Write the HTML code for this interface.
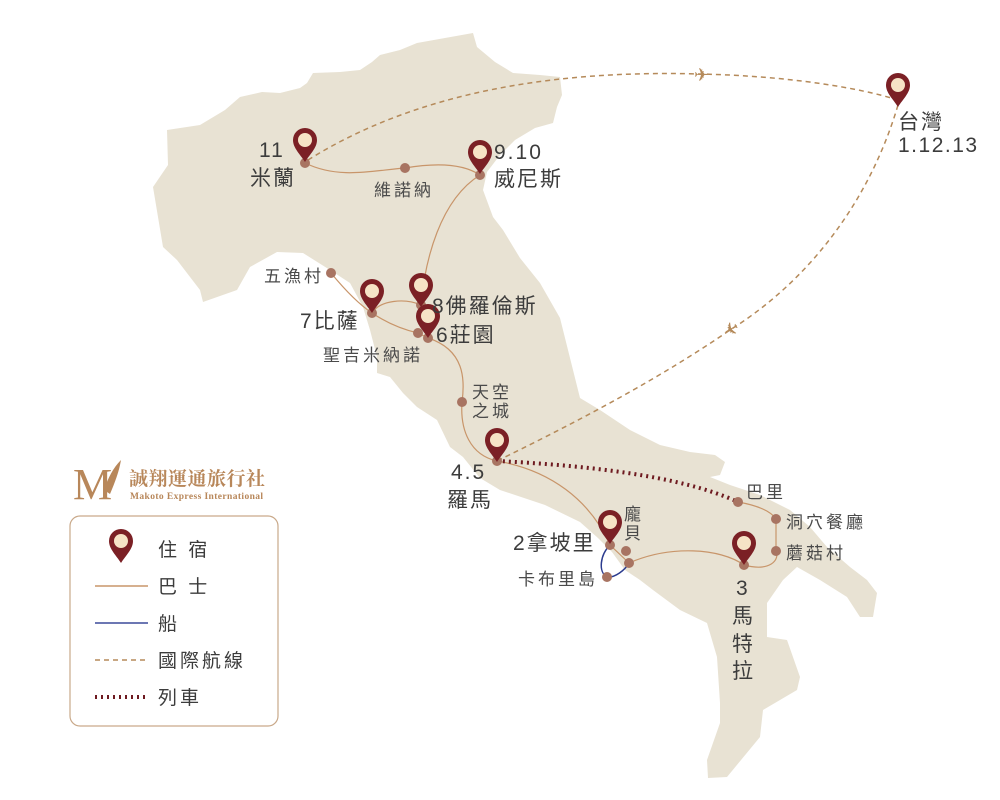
<!DOCTYPE html>
<html><head><meta charset="utf-8"><style>
html,body{margin:0;padding:0;background:#fff}
svg{display:block}
text{font-family:"Liberation Sans","Noto Sans CJK TC",sans-serif;fill:#3c3c3c}
.m{font-size:21px;letter-spacing:2px}
.s{font-size:17px;letter-spacing:3px;fill:#4a4a4a}
</style></head><body>
<svg width="1000" height="800" viewBox="0 0 1000 800" xmlns="http://www.w3.org/2000/svg">
<defs>
<g id="pin"><path d="M0,14 C-5,6 -12,0 -12,-8 A12,12 0 0 1 12,-8 C12,0 5,6 0,14Z" fill="#7b2025"/><circle cx="0" cy="-8" r="7" fill="#f6e3c6"/></g>
</defs>
<path fill="#e8e2d3" d="M153,187 L168,165 L167,130 L200,125 L225,110 L240,97 L262,92 L280,93 L300,88 L307,83 L313,73 L340,72 L360,70 L372,62 L380,55 L400,50 L417,43 L445,38 L473,33 L477,47 L495,62 L513,73 L540,75 L560,77 L562,95 L557,107 L553,123 L535,128 L515,140 L500,155 L487,172 L483,190 L493,217 L503,230 L520,258 L540,283 L560,318 L568,350 L580,398 L600,410 L630,430 L660,445 L690,452 L715,455 L725,462 L720,475 L710,477 L730,485 L760,495 L790,510 L810,527 L827,547 L850,567 L867,580 L877,593 L873,617 L860,617 L847,597 L820,580 L797,567 L783,580 L767,603 L767,637 L787,640 L800,677 L797,690 L763,710 L760,737 L727,777 L708,778 L707,760 L720,723 L720,703 L717,657 L707,623 L680,610 L653,590 L640,580 L625,570 L612,552 L598,538 L580,522 L545,505 L500,490 L480,478 L463,457 L450,447 L437,420 L417,407 L403,393 L390,377 L377,373 L377,357 L370,330 L363,307 L350,283 L330,270 L303,253 L277,252 L250,267 L237,290 L203,302 L200,290 L177,260 L163,247 Z"/>
<g fill="none" stroke="#c8956a" stroke-width="1.2">
<path d="M305,163 C340,180 375,170 405,168 C440,162 465,165 480,175"/>
<path d="M480,175 C440,200 425,260 421,305"/>
<path d="M331,273 C345,290 360,305 372,313 C390,325 405,330 418,333 L428,338"/>
<path d="M372,313 C380,300 405,298 421,305"/>
<path d="M428,338 C465,350 465,380 462,402 C460,430 470,455 497,461 C550,470 590,500 610,545 L629,563"/>
<path d="M629,563 C670,545 720,548 744,565 C770,572 780,560 776,551 L776,519 C770,510 755,505 738,502"/>
</g>
<path d="M610,545 C600,555 598,572 607,577 C615,578 625,570 629,563" fill="none" stroke="#2c3c8f" stroke-width="1.5"/>
<path d="M497,461 C580,465 680,475 738,502" fill="none" stroke="#6e1a20" stroke-width="4" stroke-dasharray="2,4"/>
<g fill="none" stroke="#b58a5a" stroke-width="1.5" stroke-dasharray="5,4">
<path d="M308,160 C420,90 560,70 700,74 C790,76 860,88 898,100"/>
<path d="M898,105 C870,200 810,280 730,330 C650,385 560,430 497,461"/>
</g>
<text x="694" y="81" font-size="18" style="fill:#b58a5a">✈</text>
<text x="721" y="337" font-size="18" style="fill:#b58a5a" transform="rotate(150 730 330)">✈</text>
<g fill="#a87462">
<circle cx="305" cy="163" r="5"/><circle cx="405" cy="168" r="5"/><circle cx="480" cy="175" r="5"/>
<circle cx="331" cy="273" r="5"/><circle cx="372" cy="313" r="5"/><circle cx="421" cy="305" r="5"/>
<circle cx="418" cy="333" r="5"/><circle cx="428" cy="338" r="5"/><circle cx="462" cy="402" r="5"/>
<circle cx="497" cy="461" r="5"/><circle cx="610" cy="545" r="5"/><circle cx="626" cy="551" r="5"/>
<circle cx="629" cy="563" r="5"/><circle cx="607" cy="577" r="5"/><circle cx="744" cy="565" r="5"/>
<circle cx="776" cy="551" r="5"/><circle cx="776" cy="519" r="5"/><circle cx="738" cy="502" r="5"/>
</g>
<use href="#pin" x="305" y="148"/><use href="#pin" x="480" y="160"/><use href="#pin" x="372" y="299"/>
<use href="#pin" x="421" y="293"/><use href="#pin" x="428" y="324"/><use href="#pin" x="497" y="448"/>
<use href="#pin" x="610" y="530"/><use href="#pin" x="744" y="551"/><use href="#pin" x="898" y="93"/>
<text x="259" y="157" class="m">11</text><text x="250" y="185" class="m">米蘭</text>
<text x="494" y="159" class="m">9.10</text><text x="494" y="186" class="m">威尼斯</text>
<text x="300" y="328" class="m">7比薩</text>
<text x="432" y="313" class="m">8佛羅倫斯</text>
<text x="436" y="342" class="m">6莊園</text>
<text x="451" y="479" class="m">4.5</text><text x="447" y="507" class="m">羅馬</text>
<text x="513" y="550" class="m">2拿坡里</text>
<text x="736" y="595" class="m">3</text><text x="732" y="623" class="m">馬</text><text x="732" y="651" class="m">特</text><text x="732" y="678" class="m">拉</text>
<text x="898" y="129" class="m">台灣</text><text x="898" y="152" class="m" style="letter-spacing:1.5px">1.12.13</text>
<text x="374" y="196" class="s">維諾納</text>
<text x="264" y="282" class="s">五漁村</text>
<text x="323" y="361" class="s">聖吉米納諾</text>
<text x="472" y="398" class="s">天空</text><text x="472" y="417" class="s">之城</text>
<text x="624" y="520" class="s">龐</text><text x="624" y="539" class="s">貝</text>
<text x="518" y="585" class="s">卡布里島</text>
<text x="746" y="498" class="s">巴里</text>
<text x="786" y="528" class="s">洞穴餐廳</text>
<text x="786" y="559" class="s">蘑菇村</text>
<text x="73" y="499" font-size="44" style="fill:#b8875a;font-family:'Liberation Serif',serif">M</text>
<path d="M104,490 C108,478 113,468 121,460 C119,472 115,482 110,494Z" fill="#b8875a"/>
<text x="129" y="485" font-size="19" font-weight="bold" style="fill:#b8875a;font-family:'Liberation Serif','Noto Serif CJK SC',serif;letter-spacing:0.5px">誠翔運通旅行社</text>
<text x="130" y="499" font-size="9.5" font-weight="bold" style="fill:#b8875a;font-family:'Liberation Serif',serif;letter-spacing:0.4px">Makoto Express International</text>
<rect x="70" y="516" width="208" height="210" rx="10" fill="#fff" stroke="#c9a98a" stroke-width="1.2"/>
<use href="#pin" x="121" y="549"/>
<line x1="95" y1="586" x2="148" y2="586" stroke="#c8956a" stroke-width="1.5"/>
<line x1="95" y1="623" x2="148" y2="623" stroke="#3b4a9a" stroke-width="1.5"/>
<line x1="95" y1="660" x2="148" y2="660" stroke="#b58a5a" stroke-width="1.5" stroke-dasharray="5,4"/>
<line x1="95" y1="697" x2="148" y2="697" stroke="#6e1a20" stroke-width="4" stroke-dasharray="2,4"/>
<g font-size="19" style="letter-spacing:3px">
<text x="158" y="556">住 宿</text>
<text x="158" y="593">巴 士</text>
<text x="158" y="630">船</text>
<text x="158" y="667">國際航線</text>
<text x="158" y="704">列車</text>
</g>
</svg>
</body></html>
